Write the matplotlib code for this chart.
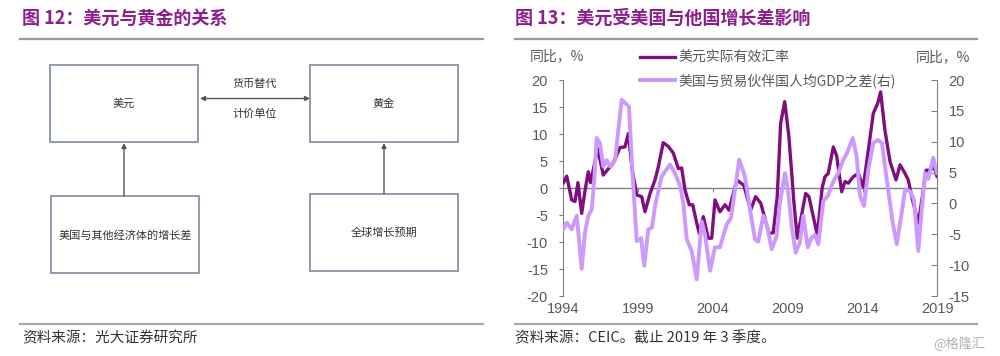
import matplotlib
matplotlib.use('Agg')
import matplotlib.pyplot as plt
import matplotlib.patches as mpatches

plt.rcParams['font.family'] = ['Noto Sans CJK SC', 'DejaVu Sans']

# ── data ────────────────────────────────────────────────────────────────
usd_years = [1994.0, 1994.23, 1994.56, 1994.78, 1994.98, 1995.23, 1995.45, 1995.67,
             1995.82, 1996.05, 1996.3, 1996.67, 1996.99, 1997.32, 1997.79, 1998.12,
             1998.35, 1998.61, 1998.91, 1999.24, 1999.46, 1999.8, 2000.13, 2000.35,
             2000.68, 2001.02, 2001.35, 2001.69, 2001.91, 2002.14, 2002.42, 2002.65,
             2002.92, 2003.09, 2003.36, 2003.69, 2003.92, 2004.14, 2004.47, 2004.81,
             2005.08, 2005.6, 2006.07, 2006.52, 2006.85, 2007.2, 2007.75, 2008.03,
             2008.3, 2008.53, 2008.8, 2009.08, 2009.42, 2009.64, 2009.91, 2010.2,
             2010.42, 2010.98, 2011.3, 2011.49, 2011.71, 2012.05, 2012.27, 2012.61,
             2012.83, 2013.05, 2013.39, 2013.72, 2014.05, 2014.39, 2014.72, 2015.03,
             2015.21, 2015.5, 2015.84, 2016.24, 2016.51, 2016.84, 2017.06, 2017.29,
             2017.73, 2017.98, 2018.25, 2018.5, 2018.78, 2018.98]
usd_reer = [0.9, 2.2, -2.2, -2.5, 1.0, -4.7, -0.5, 3.0,
            1.0, 4.0, 7.3, 2.4, 3.5, 4.5, 7.5, 7.6,
            10.1, 3.3, -1.3, -1.6, -4.4, -1.0, 1.5, 3.9,
            8.4, 7.7, 6.5, 3.6, 3.7, -0.4, -3.1, -3.1,
            -6.5, -8.4, -5.3, -9.3, -9.3, -2.2, -4.4, -3.1,
            -4.1, 1.5, 0.5, -4.1, -1.6, -2.8, -8.4, -8.3,
            -1.6, 12.0, 16.0, 9.5, -2.8, -9.3, -5.3, -1.0,
            -1.6, -8.7, 0.0, 2.1, 2.7, 7.6, 6.0, -0.7,
            1.2, 0.9, 2.1, 2.7, 0.2, 7.0, 13.8, 15.8,
            17.8, 10.7, 4.9, 1.5, 4.3, 2.7, 1.5, -1.6,
            -6.5, -2.0, 3.3, 3.3, 3.9, 2.1]

gdp_years = [1994.0, 1994.23, 1994.56, 1994.9, 1995.23, 1995.45, 1995.67, 1995.9,
             1996.07, 1996.23, 1996.45, 1996.67, 1996.9, 1997.12, 1997.46, 1997.9,
             1998.12, 1998.39, 1998.61, 1998.91, 1999.2, 1999.41, 1999.68, 1999.93,
             2000.13, 2000.58, 2001.13, 2001.47, 2001.81, 2002.02, 2002.25, 2002.58,
             2002.92, 2003.25, 2003.47, 2003.81, 2004.14, 2004.47, 2004.92, 2005.21,
             2005.54, 2005.76, 2006.14, 2006.48, 2006.81, 2007.03, 2007.37, 2007.61,
             2007.93, 2008.26, 2008.48, 2008.82, 2009.04, 2009.27, 2009.53, 2009.82,
             2010.04, 2010.34, 2010.6, 2010.82, 2011.05, 2011.38, 2011.68, 2012.05,
             2012.38, 2012.72, 2012.97, 2013.35, 2013.61, 2013.83, 2014.1, 2014.39,
             2014.72, 2015.03, 2015.3, 2015.62, 2016.02, 2016.29, 2016.62, 2016.84,
             2017.17, 2017.44, 2017.73, 2017.96, 2018.18, 2018.4, 2018.73, 2018.98]
gdp_gap = [-4.2, -3.1, -4.2, -2.0, -10.6, -4.7, -2.0, -1.0,
           3.9, 10.6, 9.8, 6.0, 7.0, 6.0, 7.0, 16.8,
           16.3, 15.7, 5.5, -6.1, -5.6, -10.1, -4.2, -3.9,
           -0.4, 4.4, 6.3, 4.9, 2.8, 0.1, -5.8, -7.7,
           -12.3, -2.9, -5.0, -10.9, -7.1, -7.1, -3.4, -2.3,
           3.3, 7.1, 4.4, -1.0, -5.8, -6.2, -2.0, -3.5,
           -7.4, -5.3, 0.1, 4.9, 1.7, -3.7, -8.0, -6.3,
           -2.0, -7.1, -5.5, -5.1, -6.6, 0.4, 1.2, 3.6,
           4.9, 7.1, 8.2, 10.6, 7.6, 1.2, -0.4, 5.5,
           9.8, 10.3, 9.8, 3.9, -3.1, -6.6, -1.5, 2.3,
           2.0, 0.6, -7.7, -1.0, 4.9, 4.0, 7.4, 4.9]

year_ticks = [1994, 1999, 2004, 2009, 2014, 2019]
left_ticks = [-20, -15, -10, -5, 0, 5, 10, 15, 20]
right_ticks = [-15, -10, -5, 0, 5, 10, 15, 20]

DARK = '#7f0f7e'
LIGHT = '#cc99ff'
TITLE_C = '#8c1f8c'
GRAY = '#808080'
TXT = '#595959'
BOX_EC = '#7f8ba0'

fig = plt.figure(figsize=(10, 3.56), dpi=100)
fig.patch.set_facecolor('white')

# ── overlay in pixel coords: titles, rules, footers, diagram ────────────
axo = fig.add_axes([0, 0, 1, 1])
axo.set_xlim(0, 1000)
axo.set_ylim(356, 0)
axo.axis('off')

axo.text(22, 18, '图 12：美元与黄金的关系', fontsize=13, fontweight='bold',
         color=TITLE_C, va='center', ha='left')
axo.text(515, 18, '图 13：美元受美国与他国增长差影响', fontsize=13, fontweight='bold',
         color=TITLE_C, va='center', ha='left')
axo.plot([20, 483], [38.5, 38.5], color='#999999', lw=1.6)
axo.plot([515, 977], [38.5, 38.5], color='#999999', lw=1.6)
axo.plot([20, 483], [324, 324], color='#aaaaaa', lw=1.6)
axo.plot([515, 977], [324, 324], color='#aaaaaa', lw=1.6)
axo.text(22, 338, '资料来源：光大证券研究所', fontsize=10.5, color='#333333',
         va='center', ha='left')
axo.text(515, 338, '资料来源：CEIC。截止 2019 年 3 季度。', fontsize=10.5,
         color='#333333', va='center', ha='left')
axo.text(985, 344, '@格隆汇', fontsize=9.5, color='#b0b0b0', va='center', ha='right')

# diagram boxes
boxes = [((50, 65), '美元'), ((310, 65), '黄金'),
         ((51, 196), '美国与其他经济体的增长差'), ((310, 194), '全球增长预期')]
for (bx, by), label in boxes:
    axo.add_patch(mpatches.Rectangle((bx, by), 148, 77, facecolor='white',
                                     edgecolor=BOX_EC, lw=1.2))
    axo.text(bx + 74, by + 39, label, fontsize=8, color='#333333',
             ha='center', va='center')

def arrow(x1, y1, x2, y2, style):
    axo.annotate('', xy=(x2, y2), xytext=(x1, y1),
                 arrowprops=dict(arrowstyle=style, color='#555555', lw=1.0,
                                 shrinkA=0, shrinkB=0, mutation_scale=7))

arrow(200, 98.5, 310, 98.5, '<|-|>')
arrow(124, 196, 124, 143, '-|>')
arrow(384, 194, 384, 143, '-|>')
axo.text(255, 84, '货币替代', fontsize=8, color='#333333', ha='center', va='center')
axo.text(255, 114, '计价单位', fontsize=8, color='#333333', ha='center', va='center')

# ── right chart ─────────────────────────────────────────────────────────
ax = fig.add_axes([0.5633, 0.1685, 0.374, 0.6067])
ax2 = ax.twinx()
ax.set_zorder(axo.get_zorder() + 1)
ax2.set_zorder(ax.get_zorder() + 1)
ax.patch.set_visible(False)
ax2.patch.set_visible(False)

ax.axhline(0, color=GRAY, lw=1.0, zorder=1)
ax.plot(usd_years, usd_reer, color=DARK, lw=2.4, solid_joinstyle='round',
        solid_capstyle='round', zorder=3)
ax2.plot(gdp_years, gdp_gap, color=LIGHT, lw=2.8, solid_joinstyle='round',
         solid_capstyle='round', zorder=3)

ax.set_xlim(1994, 2019)
ax.set_ylim(-20, 20)
ax2.set_ylim(-15, 20)
ax.set_xticks(year_ticks)
ax.set_yticks(left_ticks)
ax2.set_yticks(right_ticks)

tick_font = dict(family=['Liberation Sans', 'DejaVu Sans'], size=10.5)
ax.set_xticklabels([str(y) for y in year_ticks], fontdict=tick_font, color=TXT)
ax.set_yticklabels([str(v) for v in left_ticks], fontdict=tick_font, color=TXT)
ax2.set_yticklabels([str(v) for v in right_ticks], fontdict=tick_font, color=TXT)

for a in (ax, ax2):
    for s in ('top', 'bottom'):
        a.spines[s].set_visible(False)
ax.spines['right'].set_visible(False)
ax.spines['left'].set_color(GRAY)
ax2.spines['left'].set_visible(False)
ax2.spines['right'].set_color(GRAY)
ax.tick_params(axis='x', length=0, pad=4)
ax.tick_params(axis='y', direction='out', length=3, color=GRAY, pad=8)
ax2.tick_params(axis='y', direction='in', length=4, color=GRAY, pad=8)

# tick marks on the zero line, no labels
sec = ax.secondary_xaxis(0.5)
sec.set_xticks(year_ticks)
sec.set_xticklabels([])
sec.tick_params(direction='in', length=3, color=GRAY,
                labelbottom=False, labeltop=False)
for s in sec.spines.values():
    s.set_visible(False)

fig.text(0.530, 1 - 56 / 356, '同比，%', fontsize=10, color=TXT, va='center', ha='left')
fig.text(0.970, 1 - 57 / 356, '同比，%', fontsize=10, color=TXT, va='center', ha='right')

h1, = ax.plot([], [], color=DARK, lw=2.4)
h2, = ax.plot([], [], color=LIGHT, lw=2.8)
ax2.legend([h1, h2], ['美元实际有效汇率', '美国与贸易伙伴国人均GDP之差(右)'],
           loc='upper left', bbox_to_anchor=(0.633, 1 - 44 / 356),
           bbox_transform=fig.transFigure, frameon=False, fontsize=10,
           handlelength=2.5, handletextpad=0.3, labelspacing=0.6, borderpad=0,
           labelcolor=TXT)

fig.savefig('out.png', dpi=100)
